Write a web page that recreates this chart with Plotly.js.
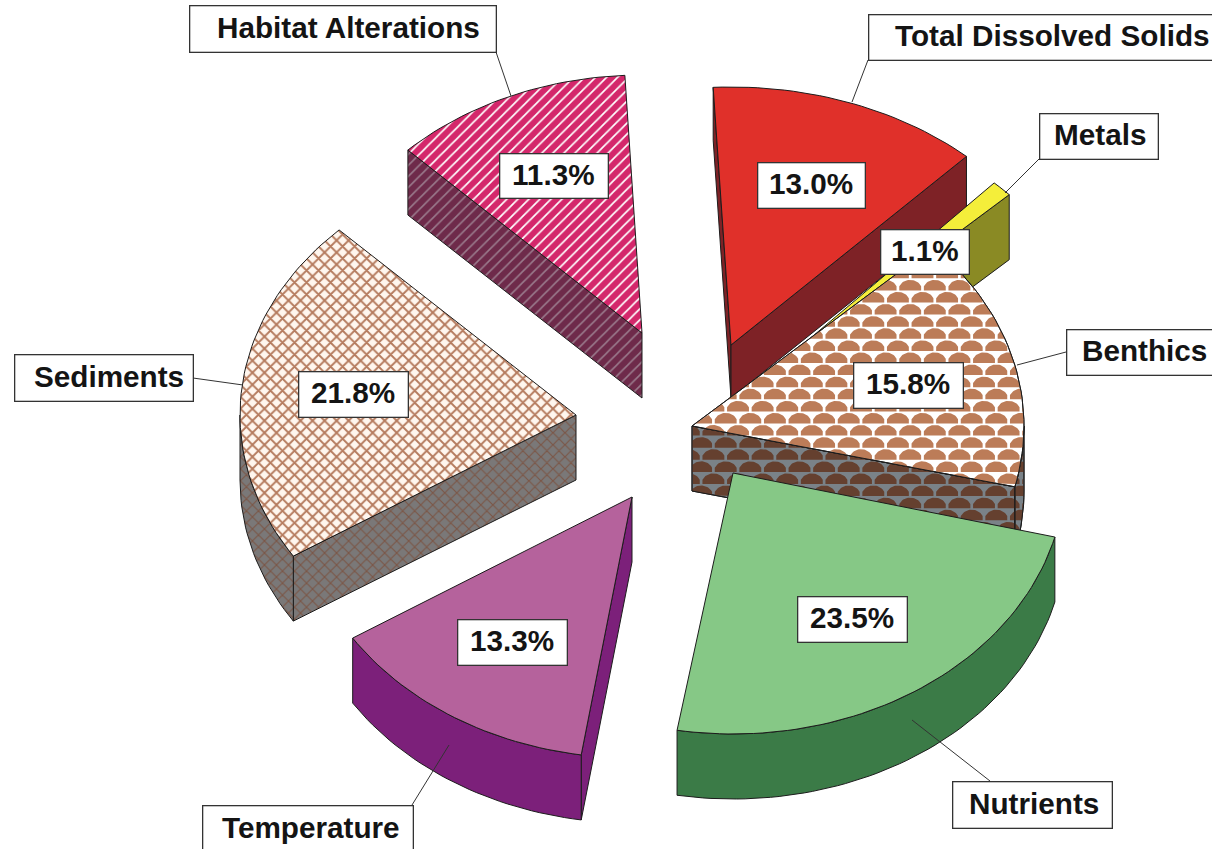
<!DOCTYPE html>
<html><head><meta charset="utf-8">
<script src="https://cdn.plot.ly/plotly-3.0.1.min.js"></script>
<style>html,body{margin:0;padding:0;background:#fff;overflow:hidden}#c{width:1212px;height:849px}</style>
</head><body><div id="c"></div>
<script>
// ---- data, clockwise from the start angle ----
const categories = ['Nutrients','Temperature','Sediments','Habitat Alterations','Total Dissolved Solids','Metals','Benthics'];
const shares = [23.5,13.3,21.8,11.3,13.0,1.1,15.8];

// ---- pie geometry and styles ----
const START = 14.2, RX = 332, RY = 261, DEPTH = 65;
const apex = {'Nutrients':[733,473],'Temperature':[632,497],'Sediments':[576,415],'Habitat Alterations':[642,333],
  'Total Dissolved Solids':[731,345],'Metals':[768,374],'Benthics':[692,426]};
const depthOf = {'Total Dissolved Solids':53};
const rxOf = {'Sediments':336,'Total Dissolved Solids':345};
const ryOf = {'Habitat Alterations':258,'Total Dissolved Solids':258};
// small corrections for the original's perspective (degrees)
const perspective = {'Nutrients':[0,0.9],'Temperature':[0,0.6],'Sediments':[0.6,0],'Habitat Alterations':[0,1.2],
  'Total Dissolved Solids':[1.2,0.4],'Metals':[0.3,0],'Benthics':[0,0]};
const looks = {
 'Nutrients':{top:'#86C886',side:'#3B7B47'},
 'Temperature':{top:'#B5629C',side:'#7C207A'},
 'Sediments':{top:'#FFF6EE',side:'#7A7878',pat:{shape:'x',size:8.5,solidity:0.4,ssolidity:0.25,fg:'#B57B5E',sfg:'#7B5646'}},
 'Habitat Alterations':{top:'#D4276B',side:'#6E2A4A',pat:{shape:'/',size:7.8,solidity:0.22,ssolidity:0.2,fg:'#FFFFFF',sfg:'#9A7A8C'}},
 'Total Dissolved Solids':{top:'#E0302A',side:'#7E2226'},
 'Metals':{top:'#F4EE3A',side:'#8A8A24'},
 'Benthics':{top:'#FFFFFF',side:'#7A8288',scale:'#BC7C58',sscale:'#65402F'}
};
const drawOrder = ['Total Dissolved Solids','Metals','Benthics','Nutrients','Habitat Alterations','Sediments','Temperature'];
const boxes = {
 'Nutrients':[952,781,1112,828],'Temperature':[202,805,413,852],'Sediments':[14,354,193,401],
 'Habitat Alterations':[189,5,496,52],'Total Dissolved Solids':[868,14,1242,60],'Metals':[1039,113,1158,159],'Benthics':[1066,329,1222,375]};
const textCentre = {'Nutrients':1033.5,'Temperature':311,'Sediments':108.5,'Habitat Alterations':348,
 'Total Dissolved Solids':1052,'Metals':1099.5,'Benthics':1144};
const pctBoxes = {
 'Nutrients':[797,596,907,642],'Temperature':[457,619,567,665],'Sediments':[298,371,408,417],
 'Habitat Alterations':[499,153,608,198],'Total Dissolved Solids':[757,162,865,208],'Metals':[880,229,969,274],'Benthics':[853,362,963,408]};
const leaders = [[[496,52],[511,96]],[[868,60],[852,102]],[[1039,159],[1005,193]],[[1066,352],[1017,365]],
 [[193,378],[243,385]],[[990,781],[912,720]],[[412,805],[449,745]]];

const EDGE = '#1c1c1c';
const rad = d => d*Math.PI/180;
let cum = START;
const angles = {};
categories.forEach((c,i)=>{const a0=cum,a1=cum+shares[i]*3.6;
  angles[c]=[a0+perspective[c][0],a1+perspective[c][1]];cum=a1;});

function arc(c,a0,a1,dy){
  const [cx,cy]=apex[c], n=Math.max(2,Math.ceil((a1-a0)/1.5)), p=[], R=rxOf[c]||RX, Q=ryOf[c]||RY;
  for(let k=0;k<=n;k++){const t=rad(a0+(a1-a0)*k/n);p.push([cx+R*Math.cos(t),cy+Q*Math.sin(t)+dy]);}
  return p;
}
function poly(points,fill,extra){
  const xs=points.map(p=>p[0]),ys=points.map(p=>p[1]);
  xs.push(xs[0]);ys.push(ys[0]);
  return Object.assign({type:'scatter',mode:'lines',x:xs,y:ys,fill:'toself',fillcolor:fill,
    line:{color:EDGE,width:1},hoverinfo:'skip',showlegend:false},extra||{});
}
// y-range of an x-monotone outline at a given x
function rangeAt(outline,x){
  let lo=Infinity,hi=-Infinity;
  for(let i=0;i<outline.length;i++){
    const a=outline[i],b=outline[(i+1)%outline.length];
    const mn=Math.min(a[0],b[0]),mx=Math.max(a[0],b[0]);
    if(x<mn||x>mx)continue;
    const y=mx===mn?a[1]:a[1]+(b[1]-a[1])*(x-a[0])/(b[0]-a[0]);
    lo=Math.min(lo,y);hi=Math.max(hi,y);
    if(mx===mn){lo=Math.min(lo,b[1]);hi=Math.max(hi,b[1]);}
  }
  return [lo,hi];
}
function scaleTexture(outline,color,lowOffset){
  const xs=outline.map(p=>p[0]),ys=outline.map(p=>p[1]);
  const x0=Math.min(...xs),x1=Math.max(...xs),y0=Math.min(...ys),y1=Math.max(...ys)+lowOffset;
  const W=12.3,H=10.6,DY=12.1,X=[],Y=[];
  let row=Math.floor(y0/DY);
  for(let yb=row*DY;yb<y1+H;yb+=DY,row++){
    const off=row%2?W:0;
    for(let xc=Math.floor(x0/(2*W))*2*W+off;xc<x1+2*W;xc+=2*W){
      const up=[],dn=[];
      for(let k=0;k<=24;k++){
        const u=-1+k/12, x=xc+u*W*0.97;
        if(x<x0||x>x1)continue;
        const r=rangeAt(outline,x);
        const top=Math.max(r[0],yb-H*Math.sqrt(Math.max(0,1-u*u)));
        const bot=Math.min(r[1]+lowOffset,yb);
        if(top<bot){up.push([x,top]);dn.push([x,bot]);}
      }
      if(up.length>1){
        up.concat(dn.reverse()).forEach(p=>{X.push(p[0]);Y.push(p[1]);});
        X.push(up[0][0],null);Y.push(up[0][1],null);
      }
    }
  }
  return {type:'scatter',mode:'lines',x:X,y:Y,fill:'toself',fillcolor:color,line:{width:0,color:color},
    hoverinfo:'skip',showlegend:false};
}
const traces=[];
drawOrder.forEach(c=>{
  const [a0,a1]=angles[c],A=apex[c],L=looks[c],D=depthOf[c]||DEPTH;
  const topPts=[A].concat(arc(c,a0,a1,0));
  const sidePat=L.pat?{fillpattern:{shape:L.pat.shape,size:L.pat.size,solidity:L.pat.ssolidity,bgcolor:L.side,fgcolor:L.pat.sfg}}:{};
  const topPat=L.pat?{fillpattern:{shape:L.pat.shape,size:L.pat.size,solidity:L.pat.solidity,bgcolor:L.top,fgcolor:L.pat.fg}}:{};
  const sides=[];
  const e0=arc(c,a0,a0,0)[0],e1=arc(c,a1,a1,0)[0];
  // only the radial faces turned towards the viewer
  if(Math.cos(rad(a0))<0) sides.push([A,e0,[e0[0],e0[1]+D],[A[0],A[1]+D]]);
  if(Math.cos(rad(a1))>0) sides.push([A,e1,[e1[0],e1[1]+D],[A[0],A[1]+D]]);
  [[0,180],[360,540]].forEach(w=>{
    const s=Math.max(a0,w[0]),t=Math.min(a1,w[1]);
    if(t>s){const u=arc(c,s,t,0),v=arc(c,s,t,D).reverse();sides.push(u.concat(v));}
  });
  sides.forEach(s=>traces.push(poly(s,L.side,sidePat)));
  if(L.scale){
    traces.push(scaleTexture(topPts,L.sscale,D));
    sides.forEach(s=>traces.push(poly(s,'rgba(0,0,0,0)',{fill:'none'})));
  }
  traces.push(poly(topPts,L.top,topPat));
  if(L.scale){
    traces.push(scaleTexture(topPts,L.scale,0));
    traces.push(poly(topPts,'rgba(0,0,0,0)',{fill:'none'}));
  }
});
// leader lines
const lx=[],ly=[];
leaders.forEach(l=>{lx.push(l[0][0],l[1][0],null);ly.push(l[0][1],l[1][1],null);});
traces.push({type:'scatter',mode:'lines',x:lx,y:ly,line:{color:'#333',width:1},hoverinfo:'skip',showlegend:false});

const FONT={family:'"Liberation Sans",Arial,sans-serif',size:29.7,color:'#141414'};
function boxNote(b){
  return {xref:'x',yref:'y',x:(b[0]+b[2])/2,y:(b[1]+b[3])/2,text:' ',showarrow:false,
    xanchor:'center',yanchor:'middle',width:b[2]-b[0]-2,height:b[3]-b[1]-2,
    bgcolor:'#fff',bordercolor:'#333',borderwidth:1.3,borderpad:0,font:FONT};
}
function textNote(text,cx,b){
  return {xref:'x',yref:'y',x:cx,y:(b[1]+b[3])/2,yshift:1.5,text:'<b>'+text+'</b>',showarrow:false,
    xanchor:'center',yanchor:'middle',font:FONT};
}
const annotations=[];
categories.forEach((c,i)=>{
  annotations.push(boxNote(boxes[c]));
  annotations.push(textNote(c,textCentre[c],boxes[c]));
  const p=pctBoxes[c];
  annotations.push(boxNote(p));
  annotations.push(textNote(shares[i].toFixed(1)+'%',(p[0]+p[2])/2,p));
});
Plotly.newPlot('c',traces,{
  width:1212,height:849,margin:{l:0,r:0,t:0,b:0},paper_bgcolor:'#fff',plot_bgcolor:'#fff',showlegend:false,
  xaxis:{range:[0,1212],visible:false,fixedrange:true},
  yaxis:{range:[849,0],visible:false,fixedrange:true},
  annotations:annotations
},{displayModeBar:false,staticPlot:true});
</script></body></html>
